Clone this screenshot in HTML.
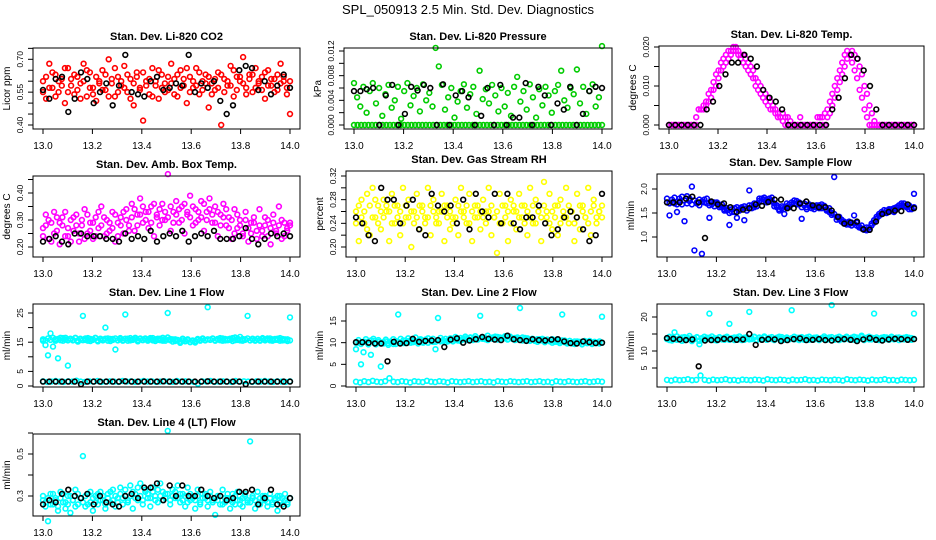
<!DOCTYPE html>
<html><head><meta charset="utf-8"><style>
html,body{margin:0;padding:0;background:#fff;}
svg{display:block;font-family:"Liberation Sans",sans-serif;}
</style></head><body>
<svg id="chart" width="936" height="540" viewBox="0 0 936 540">
<rect width="936" height="540" fill="#fff"/>
<text x="468" y="14" text-anchor="middle" font-size="13">SPL_050913  2.5 Min. Std. Dev. Diagnostics</text>
</svg>
<script>
// ---------- data ----------
const xTicks = [13.0,13.2,13.4,13.6,13.8,14.0];
const xTickLabels = ["13.0","13.2","13.4","13.6","13.8","14.0"];

const co2Red = [0.60,0.52,0.68,0.57,0.63,0.55,0.61,0.50,0.66,0.58,0.54,0.62,0.59,0.68,0.53,0.64,0.57,0.51,0.60,0.65,0.56,0.70,0.59,0.53,0.62,0.58,0.67,0.55,0.61,0.49,0.64,0.57,0.42,0.60,0.54,0.66,0.58,0.52,0.63,0.59,0.56,0.68,0.61,0.53,0.65,0.58,0.50,0.62,0.57,0.66,0.54,0.60,0.63,0.48,0.59,0.56,0.64,0.40,0.61,0.58,0.67,0.53,0.62,0.60,0.71,0.57,0.63,0.55,0.66,0.59,0.62,0.52,0.65,0.58,0.61,0.56,0.68,0.60,0.54,0.45];
const co2Red2 = [0.55,0.62,0.57,0.64,0.53,0.60,0.58,0.66,0.55,0.61,0.63,0.56,0.52,0.60,0.65,0.57,0.54,0.62,0.59,0.56,0.63,0.53,0.61,0.66,0.55,0.60,0.57,0.63,0.52,0.59,0.62,0.56,0.64,0.58,0.61,0.53,0.60,0.65,0.57,0.55,0.62,0.59,0.54,0.63,0.57,0.61,0.66,0.55,0.60,0.58,0.64,0.56,0.59,0.62,0.54,0.61,0.57,0.63,0.55,0.60,0.58,0.65,0.56,0.62,0.59,0.54,0.61,0.63,0.57,0.60,0.56,0.64,0.58,0.61,0.55,0.63,0.59,0.62,0.57,0.60];
const co2Black = [0.56,0.52,0.61,0.62,0.46,0.52,0.64,0.61,0.50,0.55,0.59,0.49,0.58,0.72,0.55,0.54,0.53,0.60,0.62,0.56,0.57,0.59,0.58,0.72,0.55,0.59,0.57,0.60,0.51,0.45,0.49,0.65,0.67,0.66,0.56,0.60,0.54,0.58,0.63,0.57];

const pressGreen = [0.0068,0.0045,0.0030,0.0062,0.0020,0.0055,0.0068,0.0035,0.0060,0.0015,0.0050,0.0065,0.0028,0.0040,0.0062,0.0010,0.0055,0.0068,0.0032,0.0047,0.0060,0.0022,0.0066,0.0040,0.0052,0.0030,0.0125,0.0095,0.0065,0.0025,0.0045,0.0060,0.0012,0.0038,0.0055,0.0066,0.0028,0.0050,0.0062,0.0018,0.0088,0.0042,0.0058,0.0035,0.0065,0.0048,0.0022,0.0060,0.0030,0.0052,0.0015,0.0062,0.0078,0.0038,0.0055,0.0025,0.0066,0.0045,0.0012,0.0058,0.0032,0.0062,0.0048,0.0020,0.0055,0.0065,0.0088,0.0040,0.0028,0.0060,0.0050,0.0090,0.0035,0.0062,0.0018,0.0055,0.0066,0.0030,0.0045,0.0128];
const pressZero = [0,0,0,0,0,0,0,0,0,0,0,0,0,0,0,0,0,0,0,0,0,0,0,0,0,0,0,0,0,0,0,0,0,0,0,0,0,0,0,0,0,0,0,0,0,0,0,0,0,0,0,0,0,0,0,0,0,0,0,0,0,0,0,0,0,0,0,0,0,0];
const pressBlack = [0.0055,0.0055,0.0058,0.0060,0,0.0048,0.0065,0,0.0018,0.0062,0.0056,0.0065,0.0060,0,0.0066,0,0.0048,0.0055,0.0045,0,0.0015,0.0060,0,0.0065,0,0.0012,0.0012,0.0068,0,0.0062,0.0048,0,0.0035,0.0025,0.0062,0,0.0018,0.0055,0.0062,0.0060];

const tempMag = [0,0,0,0,0,0,0,0,0,0,0,0,0.004,0.004,0.004,0.005,0.006,0.007,0.009,0.010,0.012,0.014,0.015,0.016,0.017,0.018,0.019,0.020,0.019,0.018,0.018,0.017,0.016,0.015,0.014,0.012,0.011,0.010,0.009,0.008,0.007,0.006,0.005,0.004,0.003,0.002,0.003,0.002,0.002,0.001,0,0,0,0.002,0,0,0,0,0,0,0.002,0.002,0,0,0.002,0.003,0.005,0.007,0.009,0.011,0.013,0.015,0.017,0.018,0.019,0.018,0.017,0.015,0.013,0.010,0.008,0.005,0.003,0.001,0,0,0,0,0,0,0,0,0,0,0,0,0,0,0,0];
const tempMag2 = [0,0,0,0,0,0,0,0,0,0,0,0.002,0.004,0.004,0.005,0.006,0.008,0.009,0.011,0.013,0.014,0.016,0.017,0.018,0.019,0.019,0.020,0.019,0.018,0.017,0.016,0.015,0.014,0.013,0.012,0.010,0.009,0.008,0.007,0.006,0.005,0.004,0.004,0.003,0.002,0.002,0.001,0,0,0,0,0,0,0,0,0,0,0,0,0,0,0.002,0.002,0.003,0.004,0.006,0.008,0.010,0.012,0.014,0.016,0.018,0.019,0.018,0.016,0.014,0.012,0.009,0.007,0.004,0.002,0,0,0,0,0,0,0,0,0,0,0,0,0,0,0,0,0,0,0];
const tempBlack = [0,0,0,0,0,0,0.004,0.006,0.010,0.013,0.016,0.016,0.018,0.017,0.015,0.009,0.007,0.006,0.004,0,0,0,0,0,0,0,0.004,0.007,0.012,0.018,0.017,0.014,0.010,0.004,0,0,0,0,0,0];

const ambMag = [0.27,0.32,0.23,0.29,0.25,0.31,0.21,0.28,0.33,0.24,0.30,0.26,0.32,0.22,0.28,0.34,0.25,0.29,0.23,0.31,0.27,0.35,0.24,0.30,0.26,0.33,0.22,0.29,0.31,0.25,0.34,0.28,0.36,0.26,0.32,0.38,0.29,0.33,0.27,0.35,0.24,0.31,0.28,0.36,0.30,0.47,0.26,0.33,0.37,0.29,0.35,0.25,0.32,0.39,0.28,0.34,0.30,0.37,0.26,0.33,0.38,0.29,0.35,0.24,0.32,0.36,0.28,0.31,0.23,0.34,0.27,0.30,0.25,0.33,0.22,0.29,0.31,0.26,0.34,0.24,0.28,0.30,0.21,0.32,0.26,0.35,0.23,0.29,0.27,0.28];
const ambMag2 = [0.24,0.28,0.30,0.22,0.33,0.26,0.29,0.31,0.24,0.27,0.22,0.31,0.28,0.25,0.30,0.23,0.32,0.26,0.29,0.24,0.33,0.28,0.31,0.25,0.29,0.27,0.32,0.24,0.28,0.33,0.30,0.26,0.31,0.34,0.28,0.32,0.35,0.30,0.33,0.29,0.36,0.32,0.34,0.30,0.33,0.31,0.35,0.29,0.32,0.34,0.30,0.36,0.33,0.31,0.35,0.29,0.33,0.31,0.36,0.30,0.34,0.32,0.29,0.33,0.28,0.31,0.34,0.27,0.30,0.25,0.32,0.28,0.24,0.30,0.27,0.25,0.29,0.23,0.28,0.26,0.31,0.24,0.27,0.29,0.25,0.28,0.30,0.24,0.26,0.29];
const ambBlack = [0.22,0.23,0.24,0.22,0.21,0.25,0.25,0.24,0.24,0.24,0.23,0.23,0.22,0.25,0.23,0.24,0.23,0.26,0.22,0.24,0.25,0.24,0.26,0.22,0.24,0.25,0.24,0.26,0.23,0.23,0.23,0.24,0.27,0.23,0.21,0.23,0.25,0.24,0.25,0.24];

const rhYellow = [0.26,0.21,0.28,0.24,0.29,0.22,0.30,0.25,0.27,0.23,0.28,0.26,0.21,0.29,0.24,0.27,0.22,0.30,0.25,0.28,0.20,0.26,0.29,0.23,0.27,0.25,0.30,0.22,0.28,0.24,0.26,0.29,0.21,0.27,0.23,0.25,0.28,0.22,0.30,0.26,0.24,0.29,0.21,0.27,0.25,0.23,0.28,0.26,0.30,0.22,0.25,0.19,0.29,0.24,0.27,0.21,0.28,0.26,0.23,0.29,0.25,0.27,0.22,0.30,0.24,0.28,0.26,0.21,0.31,0.25,0.29,0.23,0.27,0.22,0.28,0.25,0.30,0.24,0.26,0.21,0.29,0.23,0.27,0.25,0.30,0.22,0.28,0.24,0.26,0.27];
const rhYellow2 = [0.24,0.27,0.25,0.26,0.23,0.27,0.25,0.28,0.24,0.26,0.25,0.27,0.26,0.24,0.27,0.25,0.26,0.24,0.27,0.25,0.26,0.24,0.25,0.27,0.26,0.24,0.25,0.27,0.26,0.25,0.24,0.26,0.27,0.25,0.26,0.24,0.25,0.27,0.26,0.25,0.27,0.24,0.26,0.25,0.27,0.26,0.25,0.24,0.26,0.27,0.25,0.26,0.24,0.27,0.25,0.26,0.24,0.27,0.26,0.25,0.27,0.24,0.26,0.25,0.27,0.24,0.26,0.25,0.27,0.26,0.24,0.26,0.25,0.27,0.24,0.26,0.25,0.27,0.26,0.24,0.25,0.27,0.26,0.25,0.24,0.26,0.27,0.25,0.26,0.25];
const rhBlack = [0.25,0.24,0.22,0.21,0.30,0.28,0.28,0.24,0.27,0.28,0.23,0.22,0.29,0.27,0.26,0.27,0.24,0.28,0.23,0.29,0.26,0.25,0.29,0.24,0.29,0.24,0.23,0.25,0.25,0.27,0.24,0.22,0.23,0.25,0.26,0.25,0.23,0.21,0.22,0.29];

const flowBlue = [1.72,1.45,1.78,1.70,1.52,1.80,1.68,1.33,1.85,1.75,2.05,0.72,1.70,1.78,0.65,1.72,1.80,1.40,1.68,1.72,1.70,1.66,1.62,1.58,1.55,1.25,1.52,1.60,1.40,1.58,1.62,1.35,1.60,1.97,1.66,1.62,1.70,1.75,1.80,1.78,1.76,1.80,1.74,1.70,1.62,1.58,1.60,1.48,1.64,1.68,1.72,1.70,1.75,1.68,1.38,1.66,1.62,1.65,1.60,1.63,1.62,1.66,1.60,1.65,1.55,1.52,1.50,2.25,1.42,1.38,1.32,1.28,1.30,1.26,1.30,1.45,1.24,1.20,1.18,1.15,1.14,1.20,1.28,1.35,1.42,1.48,1.52,1.50,1.55,1.56,1.58,1.52,1.62,1.66,1.70,1.65,1.62,1.58,1.60,1.90];
const flowBlue2 = [1.80,1.70,1.72,1.82,1.68,1.74,1.84,1.76,1.70,1.80,1.68,1.76,1.72,1.66,1.74,1.78,1.70,1.66,1.72,1.64,1.72,1.62,1.68,1.55,1.60,1.50,1.58,1.52,1.62,1.55,1.60,1.64,1.55,1.66,1.60,1.70,1.64,1.80,1.74,1.82,1.72,1.76,1.82,1.64,1.66,1.55,1.64,1.58,1.70,1.62,1.68,1.76,1.68,1.72,1.62,1.70,1.58,1.68,1.64,1.58,1.66,1.60,1.68,1.62,1.58,1.60,1.46,1.48,1.36,1.42,1.36,1.32,1.26,1.32,1.24,1.28,1.30,1.22,1.24,1.16,1.20,1.15,1.24,1.30,1.38,1.44,1.48,1.56,1.50,1.58,1.54,1.60,1.58,1.62,1.66,1.70,1.64,1.66,1.58,1.62];
const flowBlack = [1.72,1.72,1.72,1.80,1.84,1.72,0.98,1.74,1.68,1.70,1.62,1.52,1.57,1.60,1.68,1.65,1.73,1.78,1.78,1.60,1.60,1.70,1.74,1.66,1.62,1.62,1.55,1.42,1.28,1.30,1.32,1.16,1.15,1.32,1.48,1.52,1.55,1.54,1.68,1.60];

const l1High = [15.5,14,10.5,18,13.5,16,9.5,16.5,15.5,16.5,7,16,15.6,16.4,15.2,16.2,24,15.8,16.4,15.4,16.0,16.5,15.3,16.2,15.6,20,16.3,15.4,16.1,12.5,15.7,16.4,15.5,24.5,16.2,15.6,16.0,16.5,15.3,16.1,15.8,16.3,15.5,16.0,16.4,15.4,16.2,15.7,16.5,15.5,25,16.1,15.2,16.0,15.6,14.8,16.2,15.4,16.0,15.0,15.6,14.9,16.1,15.5,16.3,15.7,27,15.9,16.3,15.6,16.0,16.4,15.5,16.1,15.7,16.2,15.4,16.6,15.8,16.8,15.5,16.0,24,15.6,16.2,15.5,16.1,15.7,16.4,15.6,16.0,16.3,15.5,16.1,15.8,16.4,15.6,16.0,15.4,23.5];
const l1High2 = [16.0,15.6,16.3,15.8,16.5,15.5,16.1,15.7,16.4,15.9,15.6,16.2,15.8,16.5,15.6,16.0,15.7,16.3,15.5,16.1,15.8,16.4,15.6,16.0,15.9,16.2,15.5,16.1,15.8,16.3,15.6,16.0,15.7,16.2,15.5,16.4,15.8,16.0,15.6,16.3,15.7,16.1,15.9,16.4,15.6,16.0,15.8,16.2,15.5,16.1,16.6,15.7,16.0,15.4,15.8,15.2,15.6,15.3,15.7,15.1,15.5,15.4,15.9,15.7,16.1,15.6,16.0,15.8,16.2,15.5,16.1,15.7,16.3,15.6,16.0,15.8,16.4,15.7,16.2,15.6,16.1,15.8,16.3,15.6,16.0,15.7,16.2,15.5,16.1,15.9,16.3,15.6,16.0,15.8,16.2,15.5,16.1,15.7,16.0,15.6];
const l1Low = [1.6,1.4,1.5,1.7,1.5,1.4,1.6,1.5,1.8,1.5,1.4,1.6,1.5,1.7,1.4,1.5,1.6,1.5,1.4,1.7,1.5,1.6,1.4,1.5,1.7,1.5,1.6,1.4,1.5,1.6,1.5,1.4,1.7,1.5,1.6,1.5,1.4,0.8,1.6,1.5,1.7,1.4,1.5,1.6,1.5,1.4,1.7,1.5,1.6,1.5,1.4,1.6,1.5,1.7,1.5,1.4,1.6,1.5,1.4,1.6];
const l1Black = [1.5,1.5,1.5,1.5,1.5,1.5,0.6,1.5,1.5,1.5,1.5,1.5,1.5,1.6,1.5,1.5,1.5,1.5,1.5,1.6,1.5,1.5,1.5,1.5,1.5,1.5,1.6,1.5,1.5,1.5,1.5,1.5,0.6,1.5,1.5,1.5,1.5,1.5,1.5,1.5];

const l2High = [8.5,10,5,7.8,10.2,9.8,7.2,10.4,9.6,10.2,4.5,9.8,10.3,9.5,10.1,9.7,10.4,16.5,10.0,10.5,9.9,10.3,10.6,10.1,10.4,9.8,10.5,10.2,10.6,10.0,10.4,10.2,8.5,15.7,10.3,10.6,10.1,10.5,10.8,10.3,10.6,10.9,10.4,10.7,11.0,10.6,11.2,10.8,11.0,10.7,16.2,10.9,11.1,10.6,11.0,11.2,10.8,11.3,10.9,11.1,11.0,10.7,11.4,10.9,11.1,10.8,18,11.2,10.7,11.0,10.6,10.9,10.4,10.8,10.5,10.9,10.3,10.7,10.4,10.8,10.2,10.6,10.3,16.5,10.5,10.0,10.4,9.8,10.3,10.0,10.2,9.7,10.4,9.9,10.3,9.8,10.2,10.0,9.8,16];
const l2High2 = [10.0,10.6,9.7,10.2,10.8,9.6,10.5,10.9,10.0,10.6,9.8,10.1,10.7,9.9,10.3,10.8,9.7,10.2,10.9,9.9,10.5,11.0,10.0,10.6,11.2,10.3,10.8,10.0,10.7,11.0,10.5,10.9,10.2,10.6,11.1,10.4,10.9,10.3,11.0,10.7,11.3,10.5,11.1,10.8,11.4,10.9,11.2,10.6,11.5,10.9,11.0,11.3,10.8,11.6,11.1,10.9,11.4,10.7,11.2,11.0,11.5,10.8,11.3,11.0,10.6,11.2,10.8,10.5,11.1,10.7,10.4,10.9,10.6,10.2,10.8,10.5,10.1,10.7,10.3,10.0,10.6,10.2,9.9,10.5,10.1,9.8,10.4,10.0,9.7,10.3,10.0,9.6,10.2,9.9,10.4,9.7,10.1,9.9,10.3,10.0];
const l2Low = [1.0,0.8,1.1,0.9,1.2,1.0,0.9,1.1,1.8,1.0,0.9,1.1,1.0,0.8,1.1,1.0,0.9,1.2,1.0,0.9,1.1,1.0,0.8,1.1,1.0,0.9,1.0,1.1,0.9,1.0,1.1,0.9,1.0,0.8,1.1,1.0,0.9,1.1,1.0,0.9,1.0,1.1,0.9,1.0,1.1,0.9,1.0,0.8,1.1,1.0,0.9,1.1,1.0,0.9,1.0,1.1,0.9,1.0,1.1,1.0];
const l2Black = [10.1,10.1,10.0,9.8,9.8,5.7,10.2,9.8,9.9,10.9,10.2,10.4,10.5,10.6,9.0,10.7,11.0,10.0,10.5,10.8,11.3,10.9,10.7,10.6,11.6,10.8,10.6,10.4,10.8,10.6,10.5,10.7,10.8,10.3,9.9,9.8,10.3,10.1,9.9,10.0];

const l3High = [13.5,13.2,13.9,15.5,13.3,13.8,13.0,14.1,13.4,13.7,12.9,13.5,14.0,12.0,13.6,13.2,13.9,21,13.4,13.8,13.1,14.0,13.5,13.3,13.9,18,13.6,13.2,14.0,13.4,13.8,13.3,13.7,21.5,13.5,14.1,13.2,13.8,13.4,14.0,13.3,13.9,13.5,13.2,13.8,13.6,14.1,13.3,13.7,13.5,22,13.4,13.9,13.2,13.8,13.5,14.0,13.3,13.7,13.4,13.9,13.2,13.6,13.8,13.3,14.0,23.5,13.5,13.9,13.2,13.8,13.4,14.2,13.5,13.7,13.3,14.0,13.6,14.5,13.2,13.8,13.4,13.9,21,13.5,13.2,13.8,13.4,14.0,13.3,13.7,13.5,13.9,13.2,13.8,13.4,13.6,13.9,13.3,21];
const l3High2 = [13.8,14.2,13.1,13.6,14.3,13.4,14.0,13.2,13.9,14.4,13.3,13.7,14.1,13.0,13.8,14.2,13.4,13.9,14.3,13.2,13.7,14.1,13.4,13.9,14.2,13.3,13.8,14.0,13.5,14.3,13.2,13.9,14.1,13.4,13.7,14.2,13.3,14.0,13.6,14.3,13.4,13.8,14.1,13.5,13.9,14.2,13.3,13.7,14.0,13.4,13.8,14.2,13.5,13.9,14.1,13.3,13.8,14.2,13.4,13.9,14.0,13.5,13.8,14.3,13.4,13.7,14.1,13.3,13.9,14.2,13.5,13.8,14.0,13.4,13.9,14.2,13.3,13.7,14.1,13.5,13.9,14.2,13.4,13.8,14.0,13.3,13.9,14.1,13.5,13.7,14.2,13.4,13.8,14.0,13.5,13.9,14.1,13.4,13.8,13.6];
const l3Low = [1.5,1.3,1.6,1.4,1.5,1.7,1.4,1.5,2.8,1.5,1.3,1.6,1.4,1.5,1.7,1.4,1.5,1.3,1.6,1.5,1.4,1.6,1.5,1.3,1.7,1.5,1.4,1.6,1.5,1.3,1.6,1.4,1.5,1.7,1.4,1.5,1.3,1.6,1.5,1.4,1.6,1.5,1.3,1.7,1.5,1.4,1.6,1.5,1.3,1.6,1.4,1.5,1.7,1.4,1.5,1.3,1.6,1.5,1.4,1.5];
const l3Black = [13.8,13.6,13.4,13.2,13.4,5.5,13.1,13.2,13.3,13.6,13.5,13.3,13.4,15.0,11.8,13.3,13.5,13.4,12.9,13.2,13.5,13.7,13.2,13.3,13.5,13.2,13.1,13.4,13.5,13.3,12.9,13.4,13.8,13.3,13.1,13.4,13.6,13.5,13.3,13.5];

const l4Cyan = [0.28,0.25,0.18,0.31,0.26,0.29,0.23,0.32,0.27,0.24,0.30,0.22,0.28,0.33,0.26,0.29,0.49,0.25,0.31,0.27,0.23,0.30,0.26,0.32,0.28,0.24,0.31,0.27,0.33,0.25,0.29,0.34,0.26,0.30,0.27,0.35,0.24,0.31,0.28,0.36,0.26,0.32,0.29,0.25,0.34,0.30,0.27,0.36,0.28,0.31,0.61,0.26,0.33,0.29,0.35,0.27,0.31,0.25,0.34,0.28,0.30,0.24,0.33,0.27,0.31,0.29,0.25,0.32,0.28,0.21,0.30,0.26,0.33,0.27,0.29,0.24,0.31,0.26,0.32,0.28,0.25,0.30,0.27,0.56,0.29,0.24,0.32,0.26,0.30,0.28,0.25,0.31,0.27,0.29,0.23,0.30,0.26,0.31,0.27,0.29];
const l4Cyan2 = [0.30,0.27,0.29,0.26,0.31,0.28,0.25,0.29,0.31,0.27,0.26,0.30,0.28,0.25,0.31,0.29,0.27,0.30,0.26,0.32,0.29,0.27,0.31,0.28,0.30,0.26,0.29,0.32,0.28,0.30,0.27,0.31,0.29,0.33,0.28,0.30,0.32,0.29,0.34,0.30,0.28,0.33,0.31,0.29,0.32,0.28,0.33,0.30,0.32,0.29,0.31,0.28,0.30,0.32,0.29,0.31,0.28,0.30,0.27,0.31,0.29,0.28,0.30,0.26,0.29,0.31,0.28,0.30,0.27,0.29,0.28,0.30,0.26,0.29,0.31,0.28,0.27,0.30,0.28,0.26,0.29,0.31,0.28,0.27,0.30,0.28,0.26,0.29,0.28,0.30,0.27,0.29,0.26,0.28,0.30,0.27,0.29,0.28,0.26,0.29];
const l4Black = [0.26,0.28,0.27,0.31,0.33,0.30,0.29,0.31,0.26,0.30,0.27,0.26,0.25,0.30,0.31,0.29,0.34,0.34,0.36,0.28,0.35,0.30,0.35,0.30,0.30,0.33,0.30,0.29,0.30,0.28,0.29,0.32,0.32,0.33,0.26,0.29,0.33,0.26,0.25,0.29];

// ---------- panels ----------
const panels = [
 {name:"co2", title:"Stan. Dev. Li-820 CO2", ylab:"Licor ppm", box:[33,48,300,129], cal:[0.40,125,0.70,59.3],
  yTicks:[0.40,0.45,0.50,0.55,0.60,0.65,0.70,0.75], yLabels:[[0.40,"0.40"],[0.55,"0.55"],[0.70,"0.70"]],
  series:[[co2Red,"#ff0000"],[co2Red2,"#ff0000"],[co2Black,"#000"]]},
 {name:"pressure", title:"Stan. Dev. Li-820 Pressure", ylab:"kPa", box:[344,48,612,129], cal:[0,125,0.012,51],
  yTicks:[0,0.002,0.004,0.006,0.008,0.010,0.012], yLabels:[[0,"0.000"],[0.004,"0.004"],[0.008,"0.008"],[0.012,"0.012"]],
  series:[[pressZero,"#00cc00"],[pressGreen,"#00cc00"],[pressBlack,"#000"]]},
 {name:"temp", title:"Stan. Dev. Li-820 Temp.", ylab:"degrees C", box:[659,46,924,129], cal:[0,125,0.020,47],
  yTicks:[0,0.005,0.010,0.015,0.020], yLabels:[[0,"0.000"],[0.010,"0.010"],[0.020,"0.020"]],
  series:[[tempMag,"#ff00ff"],[tempMag2,"#ff00ff"],[tempBlack,"#000"]]},
 {name:"amb-box-temp", title:"Stan. Dev. Amb. Box Temp.", ylab:"degrees C", box:[33,176,300,257], cal:[0.20,247,0.40,193],
  yTicks:[0.20,0.25,0.30,0.35,0.40,0.45], yLabels:[[0.20,"0.20"],[0.30,"0.30"],[0.40,"0.40"]],
  series:[[ambMag,"#ff00ff"],[ambMag2,"#ff00ff"],[ambBlack,"#000"]]},
 {name:"gas-rh", title:"Stan. Dev. Gas Stream RH", ylab:"percent", box:[346,171,612,257], cal:[0.20,247,0.32,176],
  yTicks:[0.20,0.22,0.24,0.26,0.28,0.30,0.32], yLabels:[[0.20,"0.20"],[0.24,"0.24"],[0.28,"0.28"],[0.32,"0.32"]],
  series:[[rhYellow,"#ffff00"],[rhYellow2,"#ffff00"],[rhBlack,"#000"]]},
 {name:"sample-flow", title:"Stan. Dev. Sample Flow", ylab:"ml/min", box:[657,174,924,257], cal:[1.0,237,2.0,189],
  yTicks:[1.0,1.5,2.0], yLabels:[[1.0,"1.0"],[1.5,"1.5"],[2.0,"2.0"]],
  series:[[flowBlue,"#0000ff"],[flowBlue2,"#0000ff"],[flowBlack,"#000"]]},
 {name:"line1-flow", title:"Stan. Dev. Line 1 Flow", ylab:"ml/min", box:[33,304,300,387], cal:[0,386,25,313],
  yTicks:[0,5,10,15,20,25], yLabels:[[0,"0"],[5,"5"],[15,"15"],[25,"25"]],
  series:[[l1High,"#00ffff"],[l1High2,"#00ffff"],[l1Low,"#00ffff"],[l1Black,"#000"]]},
 {name:"line2-flow", title:"Stan. Dev. Line 2 Flow", ylab:"ml/min", box:[346,304,612,387], cal:[0,386,15,321],
  yTicks:[0,5,10,15], yLabels:[[0,"0"],[5,"5"],[10,"10"],[15,"15"]],
  series:[[l2High,"#00ffff"],[l2High2,"#00ffff"],[l2Low,"#00ffff"],[l2Black,"#000"]]},
 {name:"line3-flow", title:"Stan. Dev. Line 3 Flow", ylab:"ml/min", box:[657,304,924,387], cal:[10,351,20,317],
  yTicks:[5,10,15,20], yLabels:[[5,"5"],[10,"10"],[20,"20"]],
  series:[[l3High,"#00ffff"],[l3High2,"#00ffff"],[l3Low,"#00ffff"],[l3Black,"#000"]]},
 {name:"line4-flow", title:"Stan. Dev. Line 4 (LT) Flow", ylab:"ml/min", box:[33,434,300,516], cal:[0.3,496,0.5,454],
  yTicks:[0.3,0.4,0.5,0.6], yLabels:[[0.3,"0.3"],[0.5,"0.5"]],
  series:[[l4Cyan,"#00ffff"],[l4Cyan2,"#00ffff"],[l4Black,"#000"]]}
];

const NS = "http://www.w3.org/2000/svg";
const svg = document.getElementById("chart");
function mk(tag, attrs, parent){
  const e = document.createElementNS(NS, tag);
  for (const k in attrs) e.setAttribute(k, attrs[k]);
  parent.appendChild(e);
  return e;
}

panels.forEach(p => {
  const [L,T,R,B] = p.box;
  const xs = v => (L+10) + (v-13)*((R-10)-(L+10));
  const ys = v => p.cal[1] + (v-p.cal[0])*(p.cal[3]-p.cal[1])/(p.cal[2]-p.cal[0]);
  const g = mk("g", {}, svg);
  
  

  const t = mk("text", {x:(L+R)/2, y:T-8, "text-anchor":"middle", "font-size":"11", "font-weight":"bold"}, g);
  t.textContent = p.title;
  
  

  const pg = mk("g", {}, g);
  
  
  p.series.forEach(([vals, col]) => {
    const n = vals.length;
    vals.forEach((v, i) => {
      const xv = 13 + i/(n-1);
      const c = mk("circle", {cx:xs(xv).toFixed(1), cy:ys(v).toFixed(1), r:2.4, fill:"none", stroke:col, "stroke-width":1.6}, pg);
      
      
    });
  });

  const box = mk("rect", {x:L, y:T, width:R-L, height:B-T, fill:"none", stroke:"#000", "stroke-width":1}, g);
  
  

  const xa = mk("g", {}, g);
  
  
  xTicks.forEach((v, i) => {
    const x = xs(v);
    mk("line", {x1:x, x2:x, y1:B, y2:B+5, stroke:"#000"}, xa);
    const tl = mk("text", {x:x, y:B+20, "text-anchor":"middle", "font-size":"10"}, xa);
    tl.textContent = xTickLabels[i];
    
    
  });

  const ya = mk("g", {}, g);
  
  
  p.yTicks.forEach(v => {
    const y = ys(v);
    if (y < T-1 || y > B+1) return;
    mk("line", {x1:L-5, x2:L, y1:y, y2:y, stroke:"#000"}, ya);
  });
  p.yLabels.forEach(([v, s]) => {
    const y = ys(v);
    const tl = mk("text", {x:0, y:0, "text-anchor":"middle", "font-size":"8.5", transform:`translate(${L-10},${y}) rotate(-90)`}, ya);
    tl.textContent = s;
    
    
  });
  const yt = mk("text", {x:0, y:0, "text-anchor":"middle", "font-size":"10", transform:`translate(${L-23},${(T+B)/2}) rotate(-90)`}, ya);
  yt.textContent = p.ylab;
  
  
});
</script>
</body></html>
